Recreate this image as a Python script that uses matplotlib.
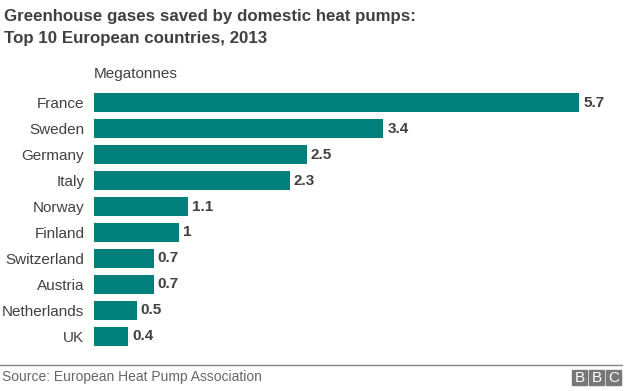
import matplotlib.pyplot as plt
from matplotlib.patches import Rectangle
from matplotlib.lines import Line2D

countries = ["France", "Sweden", "Germany", "Italy", "Norway", "Finland",
             "Switzerland", "Austria", "Netherlands", "UK"]
values = [5.7, 3.4, 2.5, 2.3, 1.1, 1, 0.7, 0.7, 0.5, 0.4]
value_labels = ["5.7", "3.4", "2.5", "2.3", "1.1", "1", "0.7", "0.7", "0.5", "0.4"]

plt.rcParams["font.family"] = ["Liberation Sans", "DejaVu Sans"]

W, H = 624, 391
fig = plt.figure(figsize=(W / 100, H / 100), dpi=100)

# axes placed in pixel terms: bars start at x=94, France ends at x=579
left, right = 94, 579
top, bottom = 90, 349
ax = fig.add_axes([left / W, 1 - bottom / H, (right - left) / W, (bottom - top) / H])

ypos = list(range(len(countries)))
ax.barh(ypos, values, height=0.73, color="#007f7b")
ax.set_xlim(0, 5.7)
ax.set_ylim(len(countries) - 0.5, -0.5)
ax.set_yticks(ypos)
ax.set_yticklabels(countries, fontsize=11, color="#404040")
ax.tick_params(axis="y", length=0, pad=7)
ax.set_xticks([])
for s in ax.spines.values():
    s.set_visible(False)

for y, v, lab in zip(ypos, values, value_labels):
    ax.text(v + 0.05, y, lab, va="center", ha="left", fontsize=11,
            fontweight="bold", color="#404040", clip_on=False)

fig.text(4 / W, 1 - 17 / H, "Greenhouse gases saved by domestic heat pumps:",
         fontsize=12.2, fontweight="bold", color="#404040", va="center")
fig.text(4 / W, 1 - 39 / H, "Top 10 European countries, 2013",
         fontsize=12.2, fontweight="bold", color="#404040", va="center")
fig.text(94 / W, 1 - 74 / H, "Megatonnes", fontsize=11, color="#404040", va="center")

# footer
fig.add_artist(Line2D([0, 622 / W], [1 - 365 / H, 1 - 365 / H], color="#888888", lw=1))
fig.text(2 / W, 1 - 377 / H, "Source: European Heat Pump Association",
         fontsize=10, color="#666666", va="center")

for i, ch in enumerate("BBC"):
    x0 = 572 + i * 17
    fig.add_artist(Rectangle((x0 / W, 1 - 385 / H), 15 / W, 15 / H,
                             transform=fig.transFigure, color="#777777"))
    fig.text((x0 + 7.5) / W, 1 - 377.5 / H, ch, fontsize=11, color="white",
             ha="center", va="center")

fig.savefig("out.png", dpi=100)
